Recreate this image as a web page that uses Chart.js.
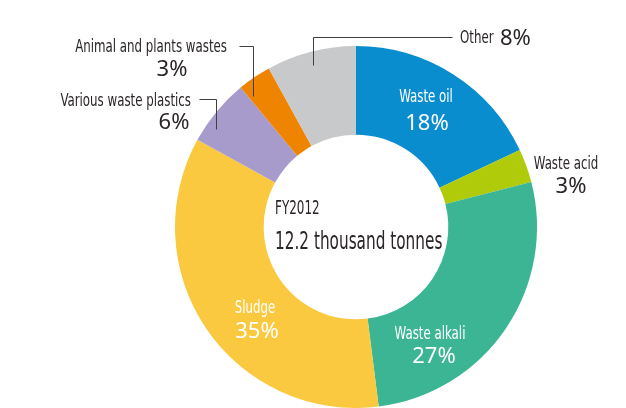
<!DOCTYPE html>
<html>
<head>
<meta charset="utf-8">
<script src="https://cdn.jsdelivr.net/npm/chart.js@4"></script>
<style>
  html, body { margin: 0; padding: 0; background: #ffffff; }
  #wrap { width: 626px; height: 408px; position: relative; }
</style>
</head>
<body>
<div id="wrap"><canvas id="c" width="626" height="408"></canvas></div>
<script>
// Industrial waste breakdown, FY2012 (share of total, %)
const categories = [
  'Waste oil',
  'Waste acid',
  'Waste alkali',
  'Sludge',
  'Various waste plastics',
  'Animal and plants wastes',
  'Other'
];
const shares = [18, 3, 27, 35, 6, 3, 8];
const sliceColors = ['#0a8dcf', '#b0cb0a', '#3bb594', '#fac93f', '#a79bcb', '#ef8400', '#c8c9ca'];
const centerTitle = 'FY2012';
const centerTotal = '12.2 thousand tonnes';

const NAME_FONT = '"Liberation Sans Narrow", "Arial Narrow", "DejaVu Sans Condensed", sans-serif';
const PCT_FONT = '"Noto Sans", "Open Sans", sans-serif';
const DARK = '#2b2526';

// Label layout: offsets (px) from the ring centre; inside = white text on the slice.
const labelLayout = [
  { name: [70, -130, 'center'], pct: [71, -103, 'center'], inside: true },
  { name: [210, -63, 'center'], pct: [215, -40, 'center'] },
  { name: [74, 107, 'center'], pct: [78, 130, 'center'], inside: true },
  { name: [-101, 81, 'center'], pct: [-99, 105, 'center'], inside: true },
  { name: [-165, -126, 'right'], pct: [-182, -104, 'center'],
    leader: [[-157, -128], [-140, -128], [-140, -98]] },
  { name: [-129, -180, 'right'], pct: [-184, -157, 'center'],
    leader: [[-117, -181], [-103, -181], [-103, -131]] },
  { name: [104, -189, 'left'], pct: [144, -188, 'left'], inline: true,
    leader: [[96, -190], [-43, -190], [-43, -162]] }
];

// Condensed lettering: draw with a horizontal squeeze about the anchor point.
function squeezeText(ctx, text, x, y, align, scaleX) {
  ctx.save();
  ctx.translate(x, y);
  ctx.scale(scaleX, 1);
  ctx.textAlign = align;
  ctx.fillText(text, 0, 0);
  ctx.restore();
}

const labelPlugin = {
  id: 'sliceLabels',
  afterDatasetsDraw(chart) {
    const ctx = chart.ctx;
    const arc = chart.getDatasetMeta(0).data[0];
    const cx = arc.x, cy = arc.y;
    ctx.save();
    ctx.textBaseline = 'middle';
    labelLayout.forEach((lay, i) => {
      if (lay.leader) {
        ctx.strokeStyle = '#3f3f3f';
        ctx.lineWidth = 1;
        ctx.beginPath();
        lay.leader.forEach((p, k) => {
          const px = Math.round(cx + p[0]) + 0.5, py = Math.round(cy + p[1]) + 0.5;
          if (k === 0) ctx.moveTo(px, py); else ctx.lineTo(px, py);
        });
        ctx.stroke();
      }
      ctx.fillStyle = lay.inside ? '#ffffff' : DARK;
      ctx.font = '18px ' + NAME_FONT;
      squeezeText(ctx, categories[i], cx + lay.name[0], cy + lay.name[1], lay.name[2], 0.73);
      ctx.font = '22px ' + PCT_FONT;
      squeezeText(ctx, shares[i] + '%', cx + lay.pct[0], cy + lay.pct[1], lay.pct[2], 1);
    });
    // centre caption
    ctx.fillStyle = DARK;
    ctx.font = '19px ' + NAME_FONT;
    squeezeText(ctx, centerTitle, cx - 81, cy - 18, 'left', 0.7);
    ctx.font = '25px ' + NAME_FONT;
    squeezeText(ctx, centerTotal, cx - 81, cy + 15, 'left', 0.68);
    ctx.restore();
  }
};

new Chart(document.getElementById('c'), {
  type: 'doughnut',
  data: {
    labels: categories,
    datasets: [{
      data: shares,
      backgroundColor: sliceColors,
      borderWidth: 0
    }]
  },
  options: {
    responsive: false,
    animation: false,
    cutout: '51%',
    layout: { padding: { left: 175, right: 89, top: 46, bottom: 0 } },
    plugins: { legend: { display: false }, tooltip: { enabled: false } }
  },
  plugins: [labelPlugin]
});
</script>
</body>
</html>
